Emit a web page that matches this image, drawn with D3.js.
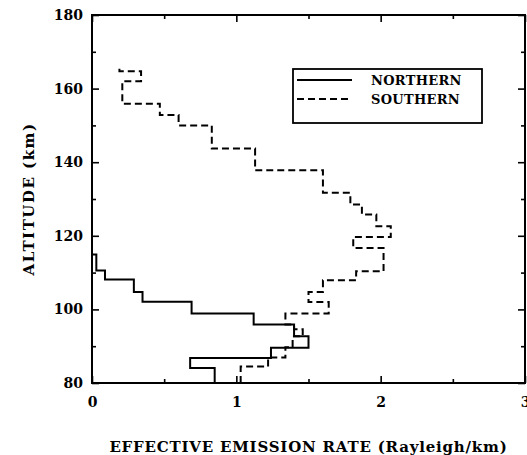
<!DOCTYPE html>
<html>
<head>
<meta charset="utf-8">
<script src="https://cdn.jsdelivr.net/npm/d3@7"></script>
<style>
  html, body { margin: 0; padding: 0; background: #fff; }
  svg { display: block; }
  text { font-family: "DejaVu Serif", "Liberation Serif", serif; fill: #000; }
</style>
</head>
<body>
<svg id="chart" width="527" height="455"></svg>
<script>
// Altitude bin edges (km) and effective emission rate per bin (Rayleigh/km)
const northAlt = [80, 84.1, 86.8, 89.6, 92.7, 95.9, 98.9, 102.1, 104.7, 108.1, 110.6, 114.9];
const northRate = [0.85, 0.68, 1.24, 1.50, 1.40, 1.12, 0.69, 0.35, 0.29, 0.09, 0.03];

const southAlt = [80, 84.5, 86.9, 89.7, 92.7, 94.6, 95.9, 98.9, 102.0, 104.7, 107.9, 110.4,
                  116.7, 119.7, 122.6, 125.8, 128.5, 131.7, 137.8, 143.7, 150.0, 152.8,
                  155.9, 162.0, 164.7, 166.5];
const southRate = [1.03, 1.22, 1.34, 1.39, 1.46, 1.40, 1.34, 1.64, 1.50, 1.60, 1.83, 2.02,
                   1.81, 2.07, 1.97, 1.87, 1.79, 1.60, 1.13, 0.83, 0.60, 0.47, 0.21, 0.34, 0.19];

const xMajor = [0, 1, 2, 3];
const xMinor = [0.5, 1.5, 2.5];
const yMajor = [80, 100, 120, 140, 160, 180];
const yMinor = [90, 110, 130, 150, 170];

const seriesNames = ["NORTHERN", "SOUTHERN"];
const xTitle = "EFFECTIVE EMISSION RATE  (Rayleigh/km)";
const yTitle = "ALTITUDE  (km)";

const plotL = 92, plotR = 525, plotT = 15, plotB = 383;

const svg = d3.select("#chart");
const x = d3.scaleLinear().domain([0, 3]).range([plotL, plotR]);
const y = d3.scaleLinear().domain([80, 180]).range([plotB, plotT]);

// step profile: each bin becomes a vertical segment at its rate
function stepPoints(alt, rate) {
  const pts = [];
  rate.forEach((r, i) => { pts.push([r, alt[i]]); pts.push([r, alt[i + 1]]); });
  return pts;
}
const line = d3.line().x(d => x(d[0])).y(d => y(d[1]));

const northPts = stepPoints(northAlt, northRate);
northPts.push([0, northAlt[northAlt.length - 1]]);
const southPts = stepPoints(southAlt, southRate);

// axes with inward ticks on all four sides
function styleAxis(g, labels) {
  g.select(".domain").remove();
  g.selectAll(".tick line").attr("stroke", "#000").attr("stroke-width", 1.6);
  if (!labels) g.selectAll(".tick text").remove();
  else g.selectAll(".tick text").attr("font-size", 14).attr("font-weight", "bold");
}
svg.append("g").attr("transform", `translate(0,${plotB})`)
  .call(d3.axisBottom(x).tickValues(xMajor).tickSize(-7).tickPadding(14).tickFormat(d3.format("d")))
  .call(g => styleAxis(g, true));
svg.append("g").attr("transform", `translate(0,${plotB})`)
  .call(d3.axisBottom(x).tickValues(xMinor).tickSize(-4))
  .call(g => styleAxis(g, false));
svg.append("g").attr("transform", `translate(0,${plotT})`)
  .call(d3.axisTop(x).tickValues(xMajor).tickSize(-7))
  .call(g => styleAxis(g, false));
svg.append("g").attr("transform", `translate(0,${plotT})`)
  .call(d3.axisTop(x).tickValues(xMinor).tickSize(-4))
  .call(g => styleAxis(g, false));
svg.append("g").attr("transform", `translate(${plotL},0)`)
  .call(d3.axisLeft(y).tickValues(yMajor).tickSize(-7).tickPadding(9).tickFormat(d3.format("d")))
  .call(g => styleAxis(g, true));
svg.append("g").attr("transform", `translate(${plotL},0)`)
  .call(d3.axisLeft(y).tickValues(yMinor).tickSize(-4))
  .call(g => styleAxis(g, false));
svg.append("g").attr("transform", `translate(${plotR},0)`)
  .call(d3.axisRight(y).tickValues(yMajor).tickSize(-7))
  .call(g => styleAxis(g, false));
svg.append("g").attr("transform", `translate(${plotR},0)`)
  .call(d3.axisRight(y).tickValues(yMinor).tickSize(-4))
  .call(g => styleAxis(g, false));

// frame
svg.append("rect")
  .attr("x", plotL).attr("y", plotT)
  .attr("width", plotR - plotL).attr("height", plotB - plotT)
  .attr("fill", "none").attr("stroke", "#000").attr("stroke-width", 2);

// profiles
svg.append("path").datum(northPts).attr("d", line)
  .attr("fill", "none").attr("stroke", "#000").attr("stroke-width", 2);
svg.append("path").datum(southPts).attr("d", line)
  .attr("fill", "none").attr("stroke", "#000").attr("stroke-width", 2)
  .attr("stroke-dasharray", "7,4");

// legend
const lg = svg.append("g");
lg.append("rect").attr("x", 293).attr("y", 69).attr("width", 189).attr("height", 54)
  .attr("fill", "#fff").attr("stroke", "#000").attr("stroke-width", 1.8);
[0, 1].forEach(i => {
  const ly = 80 + i * 19;
  lg.append("line").attr("x1", 297).attr("x2", 352).attr("y1", ly).attr("y2", ly)
    .attr("stroke", "#000").attr("stroke-width", 2)
    .attr("stroke-dasharray", i === 1 ? "7,4" : null);
  lg.append("text").attr("x", 371).attr("y", ly + 5)
    .attr("font-size", 13).attr("font-weight", "bold").attr("letter-spacing", 0.3)
    .text(seriesNames[i]);
});

// axis titles
svg.append("text").attr("x", (plotL + plotR) / 2).attr("y", 452)
  .attr("text-anchor", "middle").attr("font-size", 15).attr("font-weight", "bold")
  .attr("letter-spacing", 0.8)
  .text(xTitle);
svg.append("text").attr("transform", `translate(34,${(plotT + plotB) / 2}) rotate(-90)`)
  .attr("text-anchor", "middle").attr("font-size", 15).attr("font-weight", "bold")
  .attr("letter-spacing", 1.5)
  .text(yTitle);
</script>
</body>
</html>
